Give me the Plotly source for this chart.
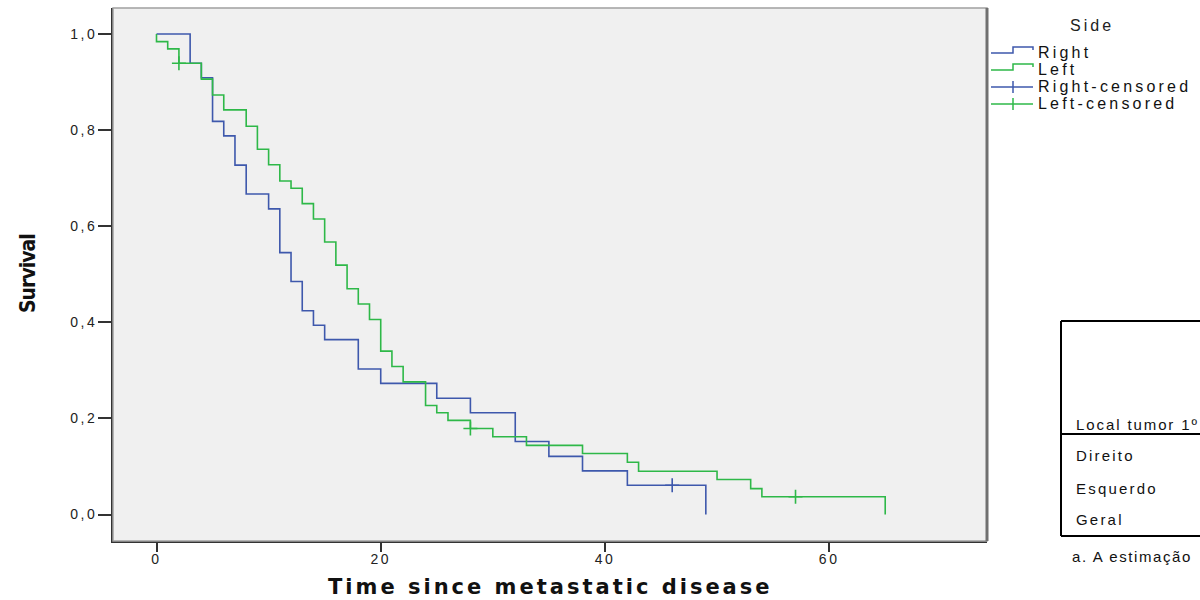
import plotly.graph_objects as go

# ---------------- data ----------------
right_time = [0, 3, 4, 5, 6, 7, 8, 10, 11, 12, 13, 14, 15, 18, 20, 25, 28, 32, 35, 38, 42, 49]
right_surv = [1.0, 0.939, 0.909, 0.818, 0.788, 0.727, 0.667, 0.636, 0.545, 0.485, 0.424, 0.394,
              0.364, 0.303, 0.273, 0.242, 0.212, 0.152, 0.121, 0.091, 0.061, 0.0]
right_cens_time = [46]
right_cens_surv = [0.061]

left_time = [0, 0, 1, 2, 4, 5, 6, 8, 9, 10, 11, 12, 13, 14, 15, 16, 17, 18, 19, 20, 21, 22,
             24, 25, 26, 28, 30, 33, 38, 42, 43, 50, 53, 54, 65]
left_surv = [1.0, 0.984, 0.969, 0.939, 0.906, 0.873, 0.842, 0.808, 0.760, 0.728, 0.694, 0.679,
             0.647, 0.615, 0.567, 0.519, 0.470, 0.438, 0.406, 0.340, 0.308, 0.276, 0.227, 0.212,
             0.196, 0.179, 0.162, 0.144, 0.127, 0.109, 0.090, 0.073, 0.054, 0.037, 0.0]
left_cens_time = [2, 28, 57]
left_cens_surv = [0.939, 0.179, 0.037]

x_ticks = [0, 20, 40, 60]
x_tick_labels = ["0", "20", "40", "60"]
y_ticks = [0.0, 0.2, 0.4, 0.6, 0.8, 1.0]
y_tick_labels = ["0,0", "0,2", "0,4", "0,6", "0,8", "1,0"]

legend_title = "Side"
legend_labels = ["Right", "Left", "Right-censored", "Left-censored"]
table_header = "Local tumor 1º"
table_rows = ["Direito", "Esquerdo", "Geral"]
table_note = "a. A estimação"

x_title = "Time since metastatic disease"
y_title = "Survival"

BLUE = "#3E58AC"
GREEN = "#2EB848"

# ---------------- geometry helpers (pixel -> paper) ----------------
L, R, T, B = 113, 987, 8, 541
def px(p):
    return (p - L) / (R - L)
def py(p):
    return (B - p) / (B - T)
def spaced(s, sp):
    return f"<span style='letter-spacing:{sp}px'>{s}</span>"

ARIAL = "Liberation Sans, Arial, sans-serif"

fig = go.Figure()

fig.add_trace(go.Scatter(x=right_time, y=right_surv, mode="lines", line=dict(color=BLUE, width=1.6, shape="hv"),
                         name="Right", showlegend=False, hoverinfo="skip"))
fig.add_trace(go.Scatter(x=left_time, y=left_surv, mode="lines", line=dict(color=GREEN, width=1.6, shape="hv"),
                         name="Left", showlegend=False, hoverinfo="skip"))
fig.add_trace(go.Scatter(x=right_cens_time, y=right_cens_surv, mode="markers",
                         marker=dict(symbol="cross-thin", size=10, line=dict(color=BLUE, width=1.6)),
                         name="Right-censored", showlegend=False, hoverinfo="skip"))
fig.add_trace(go.Scatter(x=left_cens_time, y=left_cens_surv, mode="markers",
                         marker=dict(symbol="cross-thin", size=10, line=dict(color=GREEN, width=1.6)),
                         name="Left-censored", showlegend=False, hoverinfo="skip"))

shapes = []
# plot frame
shapes.append(dict(type="rect", xref="paper", yref="paper", x0=0, x1=1, y0=0, y1=1,
                   line=dict(color="#A0A0A0", width=1.5), layer="above"))
shapes.append(dict(type="line", xref="paper", yref="paper", x0=px(R), x1=px(R), y0=0, y1=1,
                   line=dict(color="#707070", width=3), layer="above"))

# custom legend
leg_y = [52, 69, 87, 104]
colors = [BLUE, GREEN, BLUE, GREEN]
annotations = []
annotations.append(dict(text=spaced(legend_title, 3), x=px(1068), y=py(25), xref="paper", yref="paper",
                        showarrow=False, xanchor="left", yanchor="middle",
                        font=dict(family=ARIAL, size=16, color="#222")))
for i, (lab, yy, c) in enumerate(zip(legend_labels, leg_y, colors)):
    if i < 2:
        path = (f"M {px(991)} {py(yy+1)} L {px(1013)} {py(yy+1)} L {px(1013)} {py(yy-5)} "
                f"L {px(1033)} {py(yy-5)} L {px(1033)} {py(yy-2)}")
        shapes.append(dict(type="path", xref="paper", yref="paper", path=path,
                           line=dict(color=c, width=1.5)))
    else:
        shapes.append(dict(type="line", xref="paper", yref="paper", x0=px(991), x1=px(1033),
                           y0=py(yy), y1=py(yy), line=dict(color=c, width=1.5)))
        shapes.append(dict(type="line", xref="paper", yref="paper", x0=px(1013), x1=px(1013),
                           y0=py(yy - 6), y1=py(yy + 6), line=dict(color=c, width=1.5)))
    annotations.append(dict(text=spaced(lab, 3.2), x=px(1036), y=py(yy), xref="paper", yref="paper",
                            showarrow=False, xanchor="left", yanchor="middle",
                            font=dict(family=ARIAL, size=16, color="#111")))

# table box on the right (cut by the image edge)
tbl_l, tbl_t, tbl_m, tbl_b = 1061, 321, 434, 536
for (x0, y0, x1, y1) in [(tbl_l, tbl_t, 1260, tbl_t), (tbl_l, tbl_m, 1260, tbl_m),
                         (tbl_l, tbl_b, 1260, tbl_b), (tbl_l, tbl_t, tbl_l, tbl_b)]:
    shapes.append(dict(type="line", xref="paper", yref="paper", x0=px(x0), x1=px(x1),
                       y0=py(y0), y1=py(y1), line=dict(color="#000", width=2)))
tfont = dict(family=ARIAL, size=15, color="#111")
annotations.append(dict(text=spaced(table_header, 1.9), x=px(1074), y=py(424), xref="paper", yref="paper",
                        showarrow=False, xanchor="left", yanchor="middle", font=tfont))
for lab, yy in zip(table_rows, [456, 488, 519]):
    annotations.append(dict(text=spaced(lab, 2.2), x=px(1074), y=py(yy), xref="paper", yref="paper",
                            showarrow=False, xanchor="left", yanchor="middle", font=tfont))
annotations.append(dict(text=spaced(table_note, 1.6), x=px(1070), y=py(556), xref="paper", yref="paper",
                        showarrow=False, xanchor="left", yanchor="middle", font=tfont))

# axis titles
annotations.append(dict(text=spaced(f"<b>{x_title}</b>", 3), x=px(550), y=py(587),
                        xref="paper", yref="paper", showarrow=False, xanchor="center", yanchor="middle",
                        font=dict(family="DejaVu Sans, Verdana, sans-serif", size=21, color="#111")))
annotations.append(dict(text=spaced(f"<b>{y_title}</b>", -1), x=px(28), y=py(274),
                        xref="paper", yref="paper",
                        showarrow=False, xanchor="center", yanchor="middle", textangle=-90,
                        font=dict(family="Liberation Sans Narrow, DejaVu Sans Condensed, Arial Narrow, sans-serif",
                                  size=21, color="#111")))

fig.update_layout(
    width=1200, height=600,
    margin=dict(l=L, r=1200 - R, t=T, b=600 - B, pad=0),
    paper_bgcolor="white", plot_bgcolor="#F0F0F0",
    showlegend=False,
    shapes=shapes, annotations=annotations,
    xaxis=dict(range=[-3.88, 74.08], tickvals=x_ticks, ticktext=[spaced(t, 2.5) for t in x_tick_labels],
               ticks="outside", ticklen=9, tickwidth=2,
               tickcolor="#333", showline=True, linecolor="#333", linewidth=2, showgrid=False,
               zeroline=False, ticklabelstandoff=-5,
               tickfont=dict(family=ARIAL, size=14, color="#222")),
    yaxis=dict(range=[-0.055, 1.054], tickvals=y_ticks, ticktext=[spaced(t, 2.5) for t in y_tick_labels],
               ticks="outside", ticklen=13,
               tickwidth=2, tickcolor="#333", showline=True, linecolor="#333", linewidth=2,
               showgrid=False, zeroline=False, ticklabelstandoff=-2,
               tickfont=dict(family=ARIAL, size=14, color="#222")),
)

fig.write_html("out.html")
